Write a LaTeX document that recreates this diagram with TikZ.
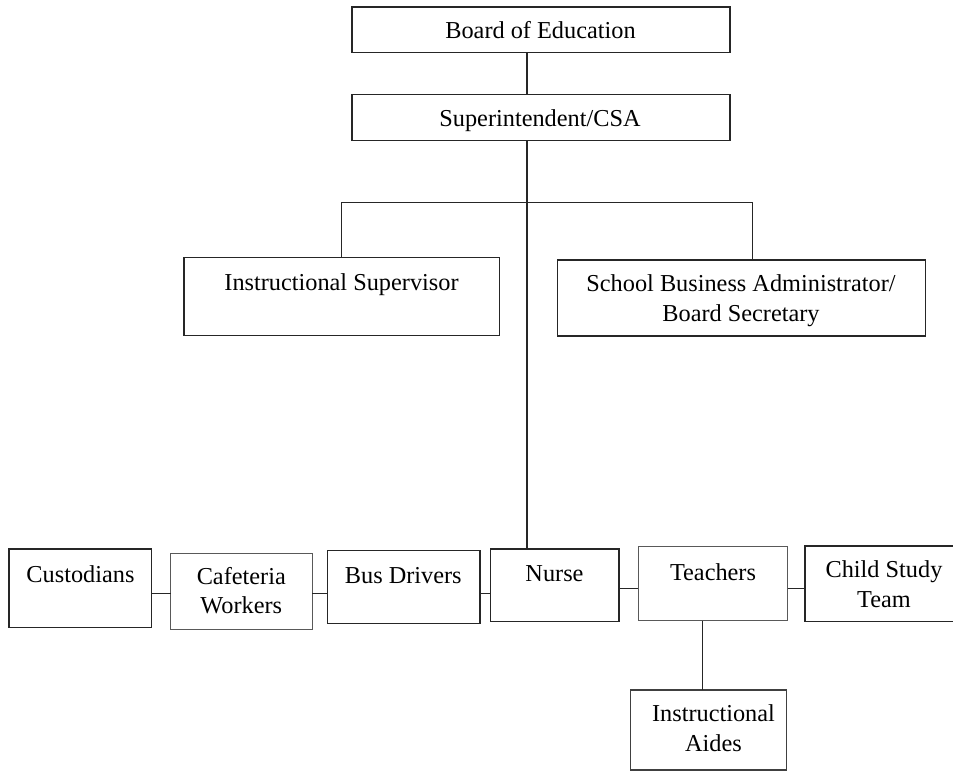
\documentclass[tikz,border=0pt]{standalone}
\usepackage{fontspec}
\setmainfont{Liberation Serif}
\begin{document}
\begin{tikzpicture}[x=1pt,y=-1pt,
  box/.style={draw=black!85,line width=1.3pt,rectangle,inner sep=0pt,outer sep=0pt,fill=white},
  softbox/.style={draw=black!65},
  txt/.style={anchor=base,inner sep=0pt,outer sep=0pt,font=\fontsize{24.3}{28}\selectfont},
  link/.style={draw=black!85,line width=1.3pt}]
\useasboundingbox (0,0) rectangle (953,772);
\clip (0,0) rectangle (953,772);
\newcommand\orgbox[6][]{\node[box,#1,minimum width={(#5-#3)*1pt},minimum height={(#6-#4)*1pt}] (#2) at ({(#3+#5)/2},{(#4+#6)/2}) {};}
% boxes
\orgbox{board}{352}{7}{730}{52.7}
\orgbox{super}{352}{94.3}{730}{140.7}
\orgbox{instsup}{184}{257.7}{499.3}{335.7}
\orgbox{sba}{557.3}{260}{925.7}{336}
\orgbox{cust}{9}{549}{151.7}{627.7}
\orgbox[softbox]{caf}{170.7}{553.3}{312.3}{629.3}
\orgbox{bus}{327.3}{550.7}{480}{623.3}
\orgbox{nurse}{490.7}{549}{619}{621.7}
\orgbox[softbox]{teach}{638.3}{546.7}{787.7}{620.7}
\orgbox{cst}{805}{546}{965}{621.7}
\orgbox[draw=black!75]{aides}{630.7}{690}{786.7}{770}
% texts
\node[txt] (tboard) at (540.5,38.3) {Board of Education};
\node[txt] (tsuper) at (540,126) {Superintendent/CSA};
\node[txt] (tinst) at (341.5,290) {Instructional Supervisor};
\node[txt] (tsba1) at (741,291.7) {School Business Administrator/};
\node[txt] (tsba2) at (741,321) {Board Secretary};
\node[txt] (tcust) at (80.5,582.3) {Custodians};
\node[txt] (tcaf1) at (241.3,584.3) {Cafeteria};
\node[txt] (tcaf2) at (241.3,613.3) {Workers};
\node[txt] (tbus) at (403.3,583.3) {Bus Drivers};
\node[txt] (tnurse) at (554.5,581.7) {Nurse};
\node[txt] (tteach) at (713,580) {Teachers};
\node[txt] (tcst1) at (884,577.7) {Child Study};
\node[txt] (tcst2) at (884,607.3) {Team};
\node[txt] (taid1) at (713.5,721.7) {Instructional};
\node[txt] (taid2) at (713.5,751.7) {Aides};
% helper coordinates
\coordinate (trunk) at (527,0);
\coordinate (branch) at (527,202.7);
\coordinate (sbatop) at (752.3,260);
\coordinate (rowA) at (0,593.3);
\coordinate (rowB) at (0,588.3);
\coordinate (aidx) at (702.7,0);
% connectors
\draw[link] (trunk |- board.south) -- (trunk |- super.north);
\draw[link] (trunk |- super.south) -- (trunk |- nurse.north);
\draw[link] (instsup.north) |- (branch) -| (sbatop);
\draw[link] (cust.east |- rowA) -- (caf.west |- rowA);
\draw[link] (caf.east |- rowA) -- (bus.west |- rowA);
\draw[link] (bus.east |- rowA) -- (nurse.west |- rowA);
\draw[link] (nurse.east |- rowB) -- (teach.west |- rowB);
\draw[link] (teach.east |- rowB) -- (cst.west |- rowB);
\draw[link] (aidx |- teach.south) -- (aidx |- aides.north);
\end{tikzpicture}
\end{document}
